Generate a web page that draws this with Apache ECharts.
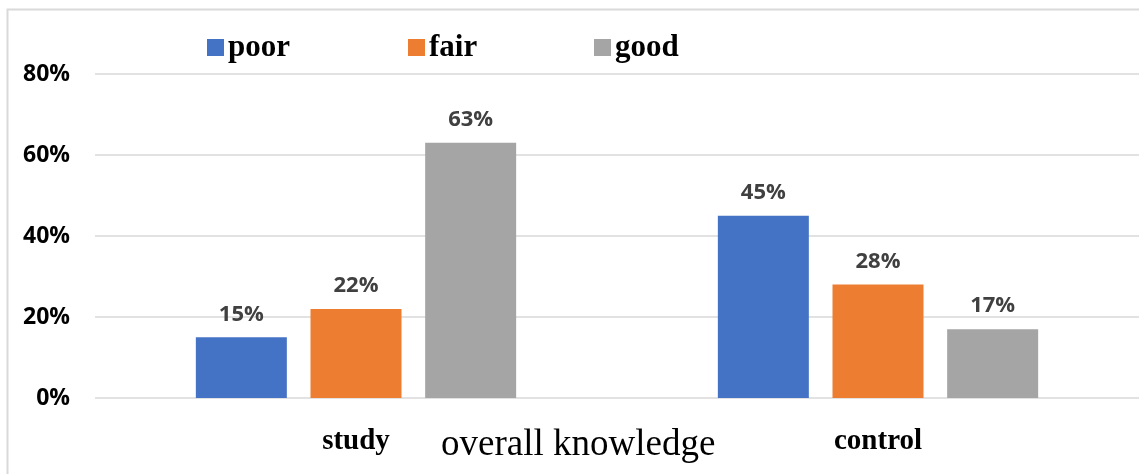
<!DOCTYPE html>
<html><head><meta charset="utf-8">
<script src="https://cdn.jsdelivr.net/npm/echarts@6/dist/echarts.min.js"></script>
<style>html,body{margin:0;padding:0;background:#fff}#c{width:1139px;height:474px}</style>
</head><body><div id="c"></div>
<script>
const categories = ['study', 'control'];
const seriesNames = ['poor', 'fair', 'good'];
const poor = [15, 45];
const fair = [22, 28];
const good = [63, 17];
const colors = ['#4472C4', '#ED7D31', '#A5A5A5'];
const axisTitle = 'overall knowledge';

const chart = echarts.init(document.getElementById('c'));
const values = [poor, fair, good];
const legendLefts = [202, 403, 589];
chart.setOption({
  animation: false,
  backgroundColor: '#fff',
  title: {
    text: axisTitle, left: 436, top: 422,
    textStyle: {fontFamily: 'Liberation Serif', fontWeight: 'normal', fontSize: 37, color: '#000'}
  },
  legend: seriesNames.map((n, i) => ({
    data: [n], left: legendLefts[i], top: 27, icon: 'rect', itemWidth: 17, itemHeight: 17, itemGap: 6,
    textStyle: {fontFamily: 'Liberation Serif', fontWeight: 'bold', fontSize: 31, color: '#000', padding: [0, 0, 0, -1]}
  })),
  graphic: [{
    type: 'rect', shape: {x: 7.5, y: 9.5, width: 1200, height: 600},
    style: {fill: 'none', stroke: '#d9d9d9', lineWidth: 2}, z: -1
  }],
  grid: {left: 95, right: -4, top: 74, bottom: 76, containLabel: false},
  xAxis: {
    type: 'category', data: categories,
    axisLine: {show: false}, axisTick: {show: false},
    axisLabel: {fontFamily: 'Liberation Serif', fontWeight: 'bold', fontSize: 29, color: '#000', margin: 29}
  },
  yAxis: {
    type: 'value', min: 0, max: 80, interval: 20,
    axisLine: {show: false}, axisTick: {show: false},
    splitLine: {lineStyle: {color: '#d9d9d9', width: 1.5}},
    axisLabel: {formatter: '{value}%', fontFamily: 'Open Sans', fontWeight: 'bold', fontSize: 23, color: '#000', margin: 25}
  },
  series: seriesNames.map((n, i) => ({
    name: n, type: 'bar', data: values[i], barWidth: 91, barGap: '26%',
    itemStyle: {color: colors[i]},
    label: {show: true, position: 'top', distance: 12, formatter: '{c}%',
      fontFamily: 'Open Sans', fontWeight: 'bold', fontSize: 22, color: '#404040'}
  }))
});
</script></body></html>
